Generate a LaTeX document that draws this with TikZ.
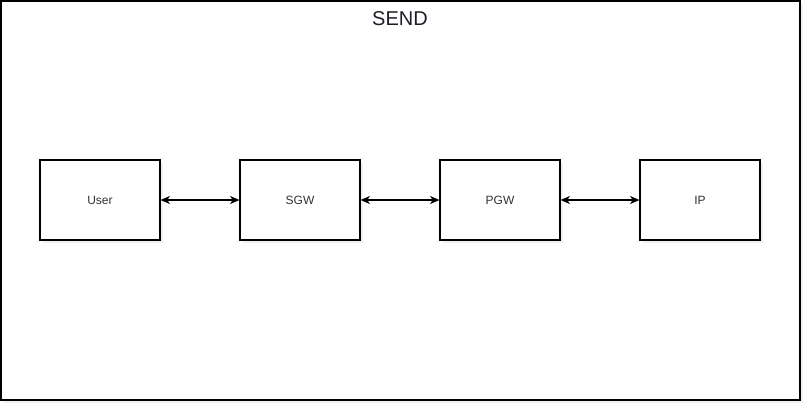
\documentclass[tikz,border=0pt]{standalone}
\usepackage{fontspec}
\setmainfont{Liberation Sans}
\usepackage{tikz}
\usetikzlibrary{arrows.meta, shadows}
\definecolor{textGray}{RGB}{51,51,51}
\definecolor{titleGray}{RGB}{30,30,40}

\begin{document}
\begin{tikzpicture}[x=0.75pt, y=-0.75pt, style={line cap = round},
	box/.style={draw=black, line width=0.9pt, fill=white, minimum width=90pt, minimum height=60pt,
		inner sep=0pt, font=\fontsize{9}{11}\selectfont, text=textGray,
		drop shadow={opacity=0.12, shadow xshift=2pt, shadow yshift=-2pt}},
	link/.style={line width=0.8pt, {Stealth[length=7pt, width=6pt, inset=2pt]}-{Stealth[length=7pt, width=6pt, inset=2pt]}}]
	\useasboundingbox (0,0) rectangle (812,412);
	\draw[line width=1pt, fill=white, drop shadow={opacity=0.1, shadow xshift=2pt, shadow yshift=-2pt}] (1,1) rectangle (800,400);
	\node[text=titleGray, font=\fontsize{15}{17}\selectfont] (title) at (400,19) {SEND};
	\node[box] (user) at (100,200) {User};
	\node[box] (sgw) at (300,200) {SGW};
	\node[box] (pgw) at (500,200) {PGW};
	\node[box] (ip) at (700,200) {IP};
	\draw[link] (user) -- (sgw);
	\draw[link] (sgw) -- (pgw);
	\draw[link] (pgw) -- (ip);
\end{tikzpicture}
\end{document}
